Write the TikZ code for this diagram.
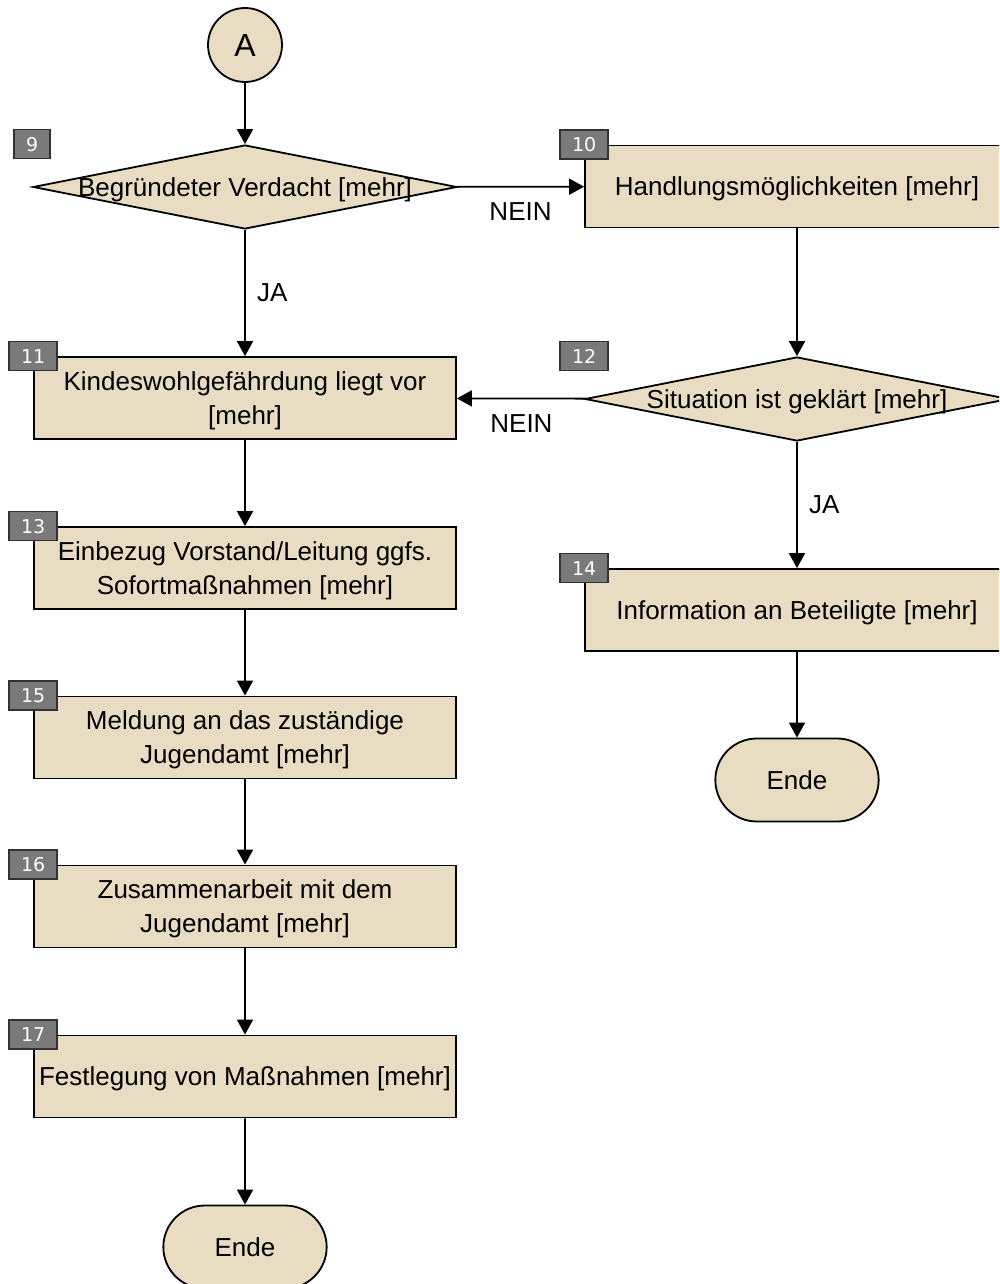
\documentclass[tikz,border=0pt]{standalone}
\usepackage{fontspec}
\setmainfont{Liberation Sans}
\newfontfamily\tagfont{DejaVu Sans}
\usetikzlibrary{shapes.geometric,shapes.misc,arrows.meta}
\definecolor{shapefill}{RGB}{232,221,194}
\definecolor{tagfill}{RGB}{122,122,122}

\begin{document}
\begin{tikzpicture}[x=1pt,y=-1pt]
        \tikzstyle{every node}=[font=\fontsize{26}{34}\selectfont]
        \tikzstyle{proc}=[rectangle, draw, line width=1.8pt, fill=shapefill, minimum width=422pt, minimum height=82pt, inner sep=0pt, align=center, text depth=0pt]
        \tikzstyle{dec}=[diamond, draw, line width=1.8pt, fill=shapefill, minimum width=424pt, minimum height=84pt, inner sep=0pt]
        \tikzstyle{term}=[rounded rectangle, draw, line width=1.8pt, fill=shapefill, minimum width=170pt, minimum height=83pt, text depth=0pt]
        \tikzstyle{tag}=[rectangle, draw=black!80, line width=1.4pt, fill=tagfill, text=white, font=\tagfont\fontsize{19}{19}\selectfont, minimum width=36pt, minimum height=29pt, inner ysep=0pt, inner xsep=12pt]
        \tikzstyle{conn}=[line width=1.8pt, -{Triangle[length=15pt,width=16pt]}]
        \useasboundingbox (0,0) rectangle (999,1284);
        \clip (0,0) rectangle (999,1284);
        % left column
        \node [circle, draw, line width=1.8pt, fill=shapefill, minimum size=74pt, inner sep=0pt, font=\fontsize{32}{32}\selectfont] (start) at (245,45) {A};
        \node [dec] (d9) at (245,187) {};
        \node [text depth=0pt] (d9text) at (d9) {Begründeter Verdacht [mehr]};
        \node [proc] (b11) at (245,398) {Kindeswohlgefährdung liegt vor\\{}[mehr]};
        \node [proc] (b13) at (245,568) {Einbezug Vorstand/Leitung ggfs.\\Sofortmaßnahmen [mehr]};
        \node [proc] (b15) at (245,737.5) {Meldung an das zuständige\\Jugendamt [mehr]};
        \node [proc] (b16) at (245,906.5) {Zusammenarbeit mit dem\\Jugendamt [mehr]};
        \node [proc] (b17) at (245,1076.5) {Festlegung von Maßnahmen [mehr]};
        \node [term] (end1) at (245,1247) {Ende};
        % right column
        \node [proc, minimum width=424pt] (b10) at (797,186.5) {Handlungsmöglichkeiten [mehr]};
        \node [dec] (d12) at (797,399) {};
        \node [text depth=0pt] (d12text) at (d12) {Situation ist geklärt [mehr]};
        \node [proc, minimum width=424pt] (b14) at (797,610) {Information an Beteiligte [mehr]};
        \node [term] (end2) at (797,780) {Ende};
        % number tags
        \node [tag] (t9) at (d9.west |- d9.north) {9};
        \node [tag] (t10) at (b10.north west) {10};
        \node [tag] (t11) at (b11.north west) {11};
        \node [tag] (t12) at (d12.west |- d12.north) {12};
        \node [tag] (t13) at (b13.north west) {13};
        \node [tag] (t14) at (b14.north west) {14};
        \node [tag] (t15) at (b15.north west) {15};
        \node [tag] (t16) at (b16.north west) {16};
        \node [tag] (t17) at (b17.north west) {17};
        % connectors
        \draw [conn] (start) -- (d9);
        \draw [conn] (d9) -- (b10) node [midway, below=12pt] (no1) {NEIN};
        \draw [conn] (d9) -- (b11) node [midway, right=8pt] (yes1) {JA};
        \draw [conn] (b10) -- (d12);
        \draw [conn] (d12) -- (b11) node [midway, below=12pt] (no2) {NEIN};
        \draw [conn] (d12) -- (b14) node [midway, right=8pt] (yes2) {JA};
        \draw [conn] (b14) -- (end2);
        \draw [conn] (b11) -- (b13);
        \draw [conn] (b13) -- (b15);
        \draw [conn] (b15) -- (b16);
        \draw [conn] (b16) -- (b17);
        \draw [conn] (b17) -- (end1);
    \end{tikzpicture}
\end{document}
